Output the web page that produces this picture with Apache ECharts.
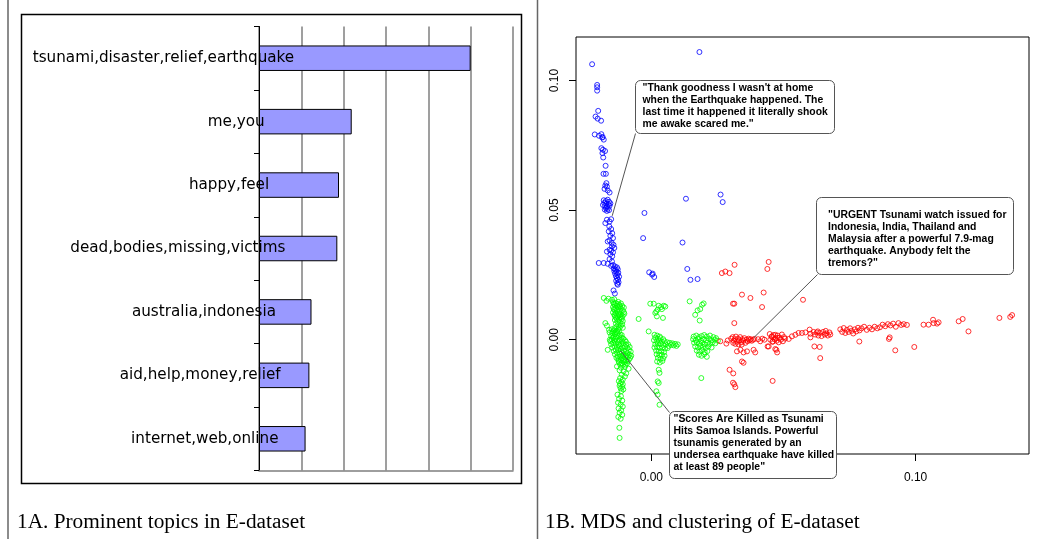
<!DOCTYPE html>
<html><head><meta charset="utf-8">
<script src="https://cdn.jsdelivr.net/npm/echarts@6/dist/echarts.min.js"></script>
<style>html,body{margin:0;padding:0;background:#fff}#c{width:1052px;height:539px}</style>
</head><body><div id="c"></div>
<script>
// ---------- Panel 1A data ----------
const topics = [
  'tsunami,disaster,relief,earthquake',
  'me,you',
  'happy,feel',
  'dead,bodies,missing,victims',
  'australia,indonesia',
  'aid,help,money,relief',
  'internet,web,online'
];
const topicValues = [5.0, 2.19, 1.89, 1.85, 1.24, 1.19, 1.10];

// ---------- Panel 1B data ----------
const mdsXTicks = [0, 0.10];
const mdsYTicks = [0, 0.05, 0.10];

const blueCluster = [
  [-0.0224,0.1063],[0.0182,0.1110],
  [-0.0205,0.0983],[-0.0205,0.0974],[-0.0205,0.0961],[-0.0201,0.0883],
  [-0.0211,0.0861],[-0.0203,0.0853],[-0.0190,0.0845],
  [-0.0214,0.0792],[-0.0198,0.0787],[-0.0189,0.0793],[-0.0184,0.0782],[-0.0180,0.0772],[-0.0186,0.0780],
  [-0.0189,0.0739],[-0.0183,0.0733],[-0.0175,0.0728],[-0.0185,0.0720],[-0.0182,0.0703],[-0.0173,0.0671],
  [-0.0181,0.0640],[-0.0172,0.0640],
  [-0.0170,0.0604],[-0.0174,0.0595],[-0.0168,0.0591],[-0.0177,0.0582],[-0.0165,0.0576],[-0.0158,0.0568],
  [-0.0180,0.0538],[-0.0172,0.0535],[-0.0165,0.0540],[-0.0160,0.0532],[-0.0178,0.0528],[-0.0170,0.0525],
  [-0.0162,0.0522],[-0.0155,0.0526],[-0.0183,0.0520],[-0.0175,0.0516],[-0.0168,0.0513],[-0.0158,0.0517],
  [-0.0172,0.0508],[-0.0165,0.0505],[-0.0160,0.0500],[-0.0176,0.0502],[-0.0168,0.0497],
  [-0.0168,0.0463],[-0.0174,0.0450],[-0.0158,0.0456],[-0.0152,0.0465],
  [-0.0159,0.0437],[-0.0152,0.0427],[-0.0161,0.0418],[-0.0148,0.0411],[-0.0155,0.0401],[-0.0145,0.0392],
  [-0.0158,0.0383],[-0.0165,0.0379],[-0.0150,0.0373],[-0.0143,0.0366],[-0.0149,0.0360],[-0.0140,0.0354],
  [-0.0158,0.0347],[-0.0152,0.0344],[-0.0168,0.0340],[-0.0145,0.0337],[-0.0155,0.0330],[-0.0148,0.0322],
  [-0.0199,0.0296],[-0.0180,0.0296],[-0.0165,0.0293],[-0.0158,0.0311],[-0.0149,0.0302],[-0.0152,0.0285],
  [-0.0145,0.0288],[-0.0138,0.0283],[-0.0130,0.0279],[-0.0142,0.0275],[-0.0135,0.0270],[-0.0127,0.0272],
  [-0.0140,0.0265],[-0.0132,0.0262],[-0.0125,0.0258],[-0.0137,0.0255],[-0.0128,0.0250],[-0.0134,0.0245],
  [-0.0122,0.0243],[-0.0130,0.0238],[-0.0126,0.0232],[-0.0133,0.0227],[-0.0124,0.0222],[-0.0129,0.0216],
  [-0.0127,0.0212],[-0.0143,0.0190],[-0.0138,0.0178],
  [-0.0031,0.0392],[-0.0026,0.0489],[0.0131,0.0544],[0.0262,0.0560],[0.0270,0.0531],[0.0118,0.0375],
  [0.0136,0.0273],[-0.0008,0.0260],[0.0003,0.0251],[0.0011,0.0242],[0.0005,0.0255],[0.0175,0.0234],[0.0148,0.0231]
];

const greenCluster = [
  [-0.0180,0.0161],[-0.0162,0.0158],[-0.0149,0.0154],[-0.0140,0.0156],[-0.0170,0.0150],
  [-0.0145,0.0145],[-0.0135,0.0142],[-0.0125,0.0146],[-0.0115,0.0140],[-0.0140,0.0135],[-0.0130,0.0132],
  [-0.0120,0.0134],[-0.0110,0.0130],[-0.0145,0.0126],[-0.0135,0.0122],[-0.0125,0.0124],[-0.0115,0.0120],
  [-0.0140,0.0115],[-0.0130,0.0112],[-0.0120,0.0110],[-0.0108,0.0113],[-0.0145,0.0105],[-0.0135,0.0102],
  [-0.0125,0.0100],[-0.0115,0.0098],[-0.0138,0.0092],[-0.0128,0.0090],[-0.0118,0.0088],[-0.0108,0.0092],
  [-0.0132,0.0082],[-0.0122,0.0078],[-0.0112,0.0080],[-0.0128,0.0070],[-0.0118,0.0066],[-0.0125,0.0058],
  [-0.0115,0.0054],[-0.0120,0.0046],[-0.0174,0.0064],[-0.0168,0.0054],[-0.0048,0.0080],
  [-0.0142,0.0140],[-0.0128,0.0138],[-0.0118,0.0128],[-0.0104,0.0124],[-0.0142,0.0118],[-0.0128,0.0116],
  [-0.0104,0.0106],[-0.0140,0.0096],[-0.0122,0.0094],[-0.0102,0.0100],[-0.0134,0.0086],[-0.0112,0.0086],
  [-0.0138,0.0076],[-0.0108,0.0072],[-0.0134,0.0062],[-0.0110,0.0060],[-0.0132,0.0050],[-0.0108,0.0046],
  [-0.0140,0.0044],[-0.0126,0.0040],
  [-0.0004,0.0139],[0.0009,0.0139],[0.0028,0.0131],[0.0037,0.0126],[0.0047,0.0131],[0.0053,0.0128],
  [0.0024,0.0116],[0.0040,0.0118],[0.0015,0.0103],[0.0021,0.0090],[0.0044,0.0084],[0.0019,0.0109],
  [-0.0160,0.0038],[-0.0150,0.0040],[-0.0140,0.0036],[-0.0130,0.0034],
  [-0.0158,0.0028],[-0.0148,0.0025],[-0.0138,0.0022],[-0.0128,0.0026],[-0.0118,0.0020],
  [-0.0152,0.0015],[-0.0142,0.0012],[-0.0132,0.0010],[-0.0122,0.0014],[-0.0112,0.0008],
  [-0.0150,0.0002],[-0.0140,-0.0002],[-0.0130,-0.0004],[-0.0120,0.0000],[-0.0110,-0.0006],[-0.0100,-0.0002],
  [-0.0145,-0.0012],[-0.0135,-0.0015],[-0.0125,-0.0010],[-0.0115,-0.0018],[-0.0105,-0.0014],[-0.0095,-0.0020],
  [-0.0140,-0.0025],[-0.0130,-0.0028],[-0.0120,-0.0024],[-0.0110,-0.0030],[-0.0100,-0.0026],[-0.0090,-0.0032],
  [-0.0135,-0.0038],[-0.0125,-0.0040],[-0.0115,-0.0036],[-0.0105,-0.0042],[-0.0095,-0.0045],[-0.0085,-0.0040],
  [-0.0130,-0.0050],[-0.0120,-0.0054],[-0.0110,-0.0050],[-0.0100,-0.0056],[-0.0090,-0.0052],[-0.0082,-0.0058],
  [-0.0128,-0.0064],[-0.0118,-0.0066],[-0.0108,-0.0062],[-0.0098,-0.0068],[-0.0088,-0.0065],
  [-0.0125,-0.0076],[-0.0115,-0.0078],[-0.0105,-0.0074],[-0.0095,-0.0080],[-0.0085,-0.0077],
  [-0.0122,-0.0088],[-0.0112,-0.0090],[-0.0102,-0.0086],[-0.0092,-0.0092],[-0.0165,-0.0039],[-0.0157,0.0000],
  [-0.0145,0.0032],[-0.0135,0.0030],[-0.0122,0.0032],[-0.0112,0.0018],[-0.0106,0.0004],[-0.0096,-0.0008],
  [-0.0088,-0.0018],[-0.0082,-0.0028],[-0.0078,-0.0046],[-0.0076,-0.0062],[-0.0080,-0.0070],[-0.0090,-0.0084],
  [-0.0098,-0.0096],[-0.0108,-0.0098],[-0.0118,-0.0096],[-0.0124,-0.0082],[-0.0132,-0.0070],[-0.0138,-0.0056],
  [-0.0142,-0.0044],[-0.0148,-0.0030],[-0.0152,-0.0018],[-0.0155,-0.0006],[-0.0145,0.0008],[-0.0135,0.0004],
  [-0.0125,-0.0018],[-0.0115,-0.0044],[-0.0105,-0.0060],[-0.0095,-0.0062],[-0.0112,-0.0072],[-0.0102,-0.0080],
  [-0.0130,-0.0103],[-0.0115,-0.0108],[-0.0100,-0.0105],[-0.0086,-0.0112],[-0.0120,-0.0118],[-0.0105,-0.0122],
  [-0.0095,-0.0130],[-0.0112,-0.0135],[-0.0100,-0.0142],[-0.0118,-0.0148],[-0.0108,-0.0154],
  [-0.0123,-0.0160],[-0.0113,-0.0163],[-0.0118,-0.0170],[-0.0108,-0.0172],[-0.0120,-0.0178],[-0.0110,-0.0182],
  [-0.0116,-0.0188],[-0.0106,-0.0192],[-0.0113,-0.0198],
  [-0.0128,-0.0212],[-0.0115,-0.0218],[-0.0122,-0.0228],[-0.0110,-0.0235],[-0.0126,-0.0243],[-0.0116,-0.0250],
  [-0.0108,-0.0258],[-0.0124,-0.0265],[-0.0114,-0.0272],[-0.0120,-0.0282],[-0.0110,-0.0290],[-0.0125,-0.0298],
  [-0.0116,-0.0305],[-0.0121,-0.0340],[-0.0120,-0.0379],
  [-0.0010,0.0032],
  [0.0012,0.0019],[0.0022,0.0016],[0.0032,0.0012],[0.0015,0.0008],[0.0025,0.0004],[0.0035,0.0006],[0.0045,0.0002],
  [0.0010,-0.0002],[0.0020,-0.0006],[0.0030,-0.0004],[0.0040,-0.0008],[0.0050,-0.0006],[0.0060,-0.0010],
  [0.0070,-0.0012],[0.0080,-0.0014],[0.0090,-0.0016],[0.0100,-0.0018],[0.0095,-0.0024],[0.0085,-0.0022],
  [0.0075,-0.0020],[0.0065,-0.0024],[0.0055,-0.0018],[0.0045,-0.0020],[0.0035,-0.0016],[0.0025,-0.0014],
  [0.0015,-0.0018],[0.0012,-0.0030],[0.0022,-0.0028],[0.0032,-0.0032],[0.0042,-0.0030],[0.0052,-0.0034],
  [0.0062,-0.0032],[0.0018,-0.0042],[0.0028,-0.0046],[0.0038,-0.0044],[0.0048,-0.0048],[0.0020,-0.0056],
  [0.0030,-0.0060],[0.0040,-0.0058],[0.0050,-0.0062],[0.0025,-0.0070],[0.0035,-0.0074],[0.0045,-0.0072],
  [0.0022,-0.0084],[0.0032,-0.0088],[0.0042,-0.0082],
  [0.0028,-0.0116],[0.0031,-0.0128],[0.0024,-0.0161],[0.0028,-0.0167],[0.0019,-0.0199],[0.0024,-0.0212],[0.0031,-0.0251],
  [0.0145,0.0148],[0.0192,0.0135],[0.0185,0.0118],[0.0175,0.0113],[0.0166,0.0096],[0.0183,0.0074],[0.0198,0.0140],
  [0.0160,0.0012],[0.0170,0.0016],[0.0180,0.0010],[0.0190,0.0014],[0.0200,0.0018],[0.0210,0.0012],[0.0222,0.0016],
  [0.0235,0.0010],[0.0245,0.0006],
  [0.0158,0.0002],[0.0168,-0.0002],[0.0178,0.0004],[0.0188,-0.0004],[0.0198,0.0002],[0.0208,-0.0002],[0.0218,0.0004],
  [0.0228,-0.0002],[0.0240,0.0000],[0.0252,-0.0004],
  [0.0162,-0.0012],[0.0172,-0.0010],[0.0182,-0.0016],[0.0192,-0.0012],[0.0202,-0.0018],[0.0212,-0.0012],
  [0.0222,-0.0016],[0.0232,-0.0010],[0.0242,-0.0014],
  [0.0166,-0.0026],[0.0176,-0.0030],[0.0186,-0.0024],[0.0196,-0.0028],[0.0206,-0.0032],[0.0216,-0.0026],[0.0228,-0.0030],
  [0.0172,-0.0042],[0.0182,-0.0046],[0.0192,-0.0040],[0.0202,-0.0048],[0.0212,-0.0044],[0.0180,-0.0058],
  [0.0190,-0.0062],[0.0200,-0.0056],[0.0210,-0.0066],[0.0189,-0.0148]
];

const redCluster = [
  [0.0261,-0.0006],[0.0284,-0.0015],[0.0289,-0.0003],
  [0.0267,0.0257],[0.0280,0.0263],[0.0296,0.0257],[0.0315,0.0289],[0.0444,0.0300],[0.0439,0.0273],
  [0.0343,0.0174],[0.0425,0.0182],[0.0309,0.0139],[0.0314,0.0139],[0.0375,0.0161],[0.0419,0.0126],
  [0.0314,0.0064],[0.0574,0.0154],
  [0.0302,0.0004],[0.0308,0.0010],[0.0312,-0.0004],[0.0316,0.0002],[0.0320,0.0012],[0.0324,-0.0008],
  [0.0328,0.0004],[0.0332,-0.0002],[0.0336,0.0010],[0.0340,-0.0010],[0.0344,0.0002],[0.0348,-0.0004],
  [0.0352,0.0006],[0.0356,-0.0012],[0.0360,0.0000],[0.0364,-0.0006],[0.0368,0.0004],[0.0372,-0.0002],
  [0.0376,0.0002],[0.0380,-0.0004],[0.0385,0.0000],[0.0390,0.0003],[0.0318,-0.0016],[0.0330,-0.0018],
  [0.0342,-0.0019],[0.0310,-0.0012],
  [0.0324,-0.0045],[0.0337,-0.0039],[0.0349,-0.0049],[0.0362,-0.0045],[0.0387,-0.0039],[0.0393,-0.0049],
  [0.0296,-0.0116],[0.0343,-0.0084],[0.0309,-0.0166],[0.0314,-0.0172],[0.0318,-0.0183],[0.0349,-0.0089],
  [0.0310,-0.0130],[0.0459,-0.0159],
  [0.0444,-0.0026],[0.0457,0.0013],[0.0469,0.0019],[0.0478,0.0007],[0.0473,-0.0039],[0.0460,-0.0007],
  [0.0404,0.0002],[0.0412,-0.0006],[0.0420,0.0004],[0.0428,0.0000],
  [0.0448,0.0022],[0.0455,0.0012],[0.0462,0.0018],[0.0470,0.0006],[0.0478,0.0016],[0.0486,0.0008],
  [0.0494,0.0020],[0.0502,0.0010],
  [0.0450,0.0000],[0.0458,-0.0008],[0.0466,0.0002],[0.0474,-0.0004],[0.0482,-0.0010],[0.0490,0.0000],
  [0.0498,-0.0006],[0.0506,0.0004],
  [0.0440,-0.0026],[0.0469,-0.0036],[0.0476,-0.0049],
  [0.0520,0.0003],[0.0532,0.0013],[0.0545,0.0019],[0.0557,0.0026],[0.0570,0.0026],[0.0583,0.0028],
  [0.0599,0.0039],[0.0602,0.0023],[0.0602,0.0009],
  [0.0614,0.0030],[0.0620,0.0020],[0.0626,0.0028],[0.0632,0.0016],[0.0638,0.0026],[0.0644,0.0014],
  [0.0650,0.0030],[0.0656,0.0020],[0.0662,0.0024],[0.0668,0.0016],[0.0674,0.0028],[0.0677,0.0020],
  [0.0630,0.0032],[0.0660,0.0034],
  [0.0617,-0.0026],[0.0637,-0.0028],[0.0639,-0.0071],
  [0.0715,0.0040],[0.0722,0.0030],[0.0728,0.0045],[0.0734,0.0026],[0.0740,0.0038],[0.0746,0.0030],
  [0.0752,0.0044],[0.0758,0.0034],[0.0764,0.0024],[0.0770,0.0040],[0.0776,0.0032],[0.0782,0.0046],
  [0.0788,0.0036],[0.0787,-0.0007],
  [0.0795,0.0044],[0.0805,0.0050],[0.0815,0.0038],[0.0825,0.0046],[0.0835,0.0040],[0.0845,0.0050],
  [0.0855,0.0044],[0.0865,0.0048],
  [0.0875,0.0058],[0.0885,0.0052],[0.0895,0.0060],[0.0905,0.0055],[0.0915,0.0062],[0.0925,0.0050],
  [0.0935,0.0064],[0.0945,0.0057],[0.0955,0.0060],[0.0967,0.0057],
  [0.0902,0.0009],[0.0899,0.0003],[0.0923,-0.0041],[0.0995,-0.0028],
  [0.1030,0.0058],[0.1049,0.0058],[0.1066,0.0077],[0.1068,0.0064],[0.1087,0.0067],[0.1081,0.0062],
  [0.1163,0.0071],[0.1178,0.0080],[0.1200,0.0032],[0.1317,0.0084],[0.1358,0.0088],[0.1365,0.0095]
];

// annotation texts and the data points they point to
const noteTexts = [
  '"Thank goodness I wasn\'t at home\nwhen the Earthquake happened. The\nlast time it happened it literally shook\nme awake scared me."',
  '"URGENT Tsunami watch issued for\nIndonesia, India, Thailand and\nMalaysia after a powerful 7.9-mag\nearthquake. Anybody felt the\ntremors?"',
  '"Scores Are Killed as Tsunami\nHits Samoa Islands. Powerful\ntsunamis generated by an\nundersea earthquake have killed\nat least 89 people"'
];
const noteTargets = [[-0.0148, 0.0478], [0.0387, 0.0007], [-0.0117, -0.0042]];

const captionA = '1A. Prominent topics in E-dataset';
const captionB = '1B. MDS and clustering of E-dataset';

// ---------- chart ----------
const chart = echarts.init(document.getElementById('c'), null, {renderer: 'canvas'});
const fmt = v => v.toFixed(2);
const scatter = (data, color) => ({
  type: 'scatter', xAxisIndex: 1, yAxisIndex: 1, data: data,
  symbol: 'circle', symbolSize: 5, progressive: 0, silent: true, z: 3,
  itemStyle: {color: 'rgba(0,0,0,0)', borderColor: color, borderWidth: 1}
});

chart.setOption({
  animation: false,
  backgroundColor: '#fff',
  grid: [
    {left: 259, top: 26.5, width: 254, height: 444, show: false},
    {left: 576, top: 37, width: 453, height: 417, show: true, borderColor: '#000', borderWidth: 1, backgroundColor: 'rgba(0,0,0,0)'}
  ],
  xAxis: [
    {gridIndex: 0, type: 'value', min: 0, max: 6, interval: 1,
     axisLabel: {show: false}, axisTick: {show: false},
     axisLine: {show: true, onZero: false, lineStyle: {color: '#7f7f7f', width: 1.5}},
     splitLine: {show: true, lineStyle: {color: '#7f7f7f', width: 1.5}}},
    {gridIndex: 1, type: 'value', min: -0.0285, max: 0.1429, position: 'bottom',
     axisLine: {show: false, onZero: false}, splitLine: {show: false},
     axisTick: {show: true, length: 7, customValues: mdsXTicks, lineStyle: {color: '#000'}},
     axisLabel: {show: true, customValues: mdsXTicks, formatter: fmt, margin: 18, fontSize: 12,
                 fontFamily: "'Liberation Sans', Arial, sans-serif", color: '#000'}}
  ],
  yAxis: [
    {gridIndex: 0, type: 'category', inverse: true, data: topics,
     axisLine: {show: true, onZero: false, lineStyle: {color: '#000', width: 1}},
     axisTick: {show: true, length: 5, lineStyle: {color: '#000'}},
     axisLabel: {show: false}, splitLine: {show: false}},
    {gridIndex: 1, type: 'value', min: -0.0441, max: 0.1168, position: 'left',
     axisLine: {show: false, onZero: false}, splitLine: {show: false},
     axisTick: {show: true, length: 7, customValues: mdsYTicks, lineStyle: {color: '#000'}},
     axisLabel: {show: true, customValues: mdsYTicks, formatter: fmt, rotate: 90, margin: 15, fontSize: 12,
                 fontFamily: "'Liberation Sans', Arial, sans-serif", color: '#000'}}
  ],
  series: [
    {type: 'bar', xAxisIndex: 0, yAxisIndex: 0, data: topicValues, barWidth: 25.5, silent: true,
     itemStyle: {color: '#9999ff', borderColor: '#000', borderWidth: 1}},
    scatter(blueCluster, '#0000ff'),
    scatter(greenCluster, '#00ff00'),
    scatter(redCluster, '#ff0000')
  ]
});

// ---------- overlay: labels, frames, annotations ----------
const g = [];
const mctx = document.createElement('canvas').getContext('2d');
mctx.font = "15px 'Liberation Sans'";
const axisX = chart.convertToPixel({xAxisIndex: 0}, 0);
topics.forEach(t => {
  const y = chart.convertToPixel({yAxisIndex: 0}, t);
  const w = mctx.measureText(t).width;
  g.push({type: 'text', z: 100, x: axisX - 2 - w, y: y,
          style: {text: t, font: "15.2px 'DejaVu Sans'", fill: '#000', align: 'left', verticalAlign: 'middle'}});
});

// page frame lines and panel box
g.push({type: 'line', z: 100, shape: {x1: 8, y1: 0, x2: 8, y2: 539}, style: {stroke: '#666', lineWidth: 1.5}});
g.push({type: 'line', z: 100, shape: {x1: 537.5, y1: 0, x2: 537.5, y2: 539}, style: {stroke: '#666', lineWidth: 1.5}});
g.push({type: 'rect', z: 100, shape: {x: 21.5, y: 14.5, width: 500, height: 469}, style: {fill: 'none', stroke: '#000', lineWidth: 1.5}});

// annotation boxes (pixel layout)
const boxes = [
  {x: 635.5, y: 80.5, w: 199, h: 53, tx: 642.5, ty: 82.5},
  {x: 816.5, y: 197.5, w: 197, h: 77, tx: 828, ty: 209},
  {x: 669.5, y: 411.5, w: 167, h: 67, tx: 673.5, ty: 413.3}
];
const corners = [[635.5, 133.5], [817.5, 274.5], [669.5, 412.5]];
boxes.forEach((b, i) => {
  const p = chart.convertToPixel({xAxisIndex: 1, yAxisIndex: 1}, noteTargets[i]);
  g.push({type: 'line', z: 101, shape: {x1: corners[i][0], y1: corners[i][1], x2: p[0], y2: p[1]},
          style: {stroke: '#555', lineWidth: 1}});
  g.push({type: 'rect', z: 102, shape: {x: b.x, y: b.y, width: b.w, height: b.h, r: 5},
          style: {fill: '#fff', stroke: '#555', lineWidth: 1}});
  g.push({type: 'text', z: 103, x: b.tx, y: b.ty,
          style: {text: noteTexts[i], font: "bold 10.4px 'Liberation Sans'", lineHeight: 12, fill: '#000', align: 'left', verticalAlign: 'top'}});
});

// captions
g.push({type: 'text', z: 100, x: 17, y: 522, style: {text: captionA, font: "21.3px 'Liberation Serif'", fill: '#000', verticalAlign: 'middle'}});
g.push({type: 'text', z: 100, x: 545, y: 522, style: {text: captionB, font: "21.3px 'Liberation Serif'", fill: '#000', verticalAlign: 'middle'}});

chart.setOption({graphic: {elements: g}});
</script>
</body></html>
